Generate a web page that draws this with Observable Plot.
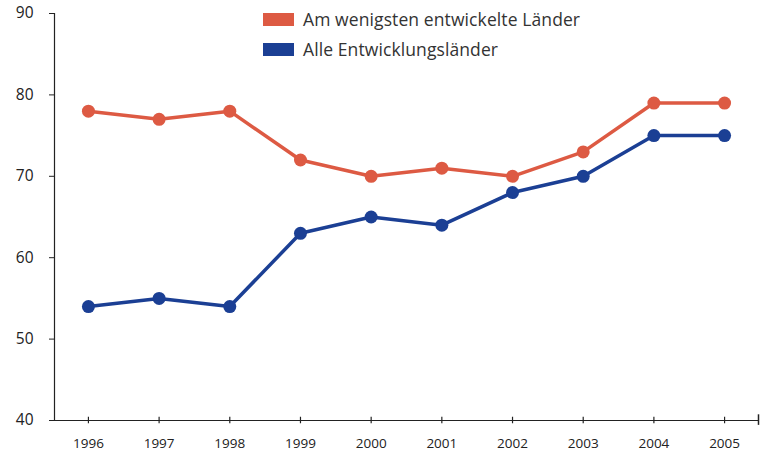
<!DOCTYPE html>
<html>
<head>
<meta charset="utf-8">
<script src="https://cdn.jsdelivr.net/npm/d3@7"></script>
<script src="https://cdn.jsdelivr.net/npm/@observablehq/plot@0.6"></script>
<style>
  html, body { margin: 0; padding: 0; background: #fff; }
  #wrap { position: relative; width: 764px; height: 454px; font-family: "Open Sans", "Noto Sans", sans-serif; }
  .leg { position: absolute; left: 263px; display: flex; align-items: center; font-size: 17.5px; color: #333; letter-spacing: 0.1px; }
  .sw { width: 31px; height: 13px; margin-right: 9px; }
</style>
</head>
<body>
<div id="wrap"></div>
<script>
const years = [1996, 1997, 1998, 1999, 2000, 2001, 2002, 2003, 2004, 2005];
const seriesNames = ["Am wenigsten entwickelte Länder", "Alle Entwicklungsländer"];
const ldcValues = [78, 77, 78, 72, 70, 71, 70, 73, 79, 79];
const allValues = [54, 55, 54, 63, 65, 64, 68, 70, 75, 75];
const yTicks = [40, 50, 60, 70, 80, 90];
const colors = ["#dd5a43", "#1b3f94"];

const data = [
  ...years.map((y, i) => ({year: y, value: ldcValues[i], series: seriesNames[0]})),
  ...years.map((y, i) => ({year: y, value: allValues[i], series: seriesNames[1]}))
];

const x0 = 1995.52, x1 = 2005.48;

const chart = Plot.plot({
  width: 764,
  height: 454,
  marginLeft: 54,
  marginRight: 6,
  marginTop: 13,
  marginBottom: 34,
  style: {fontFamily: "'Open Sans', 'Noto Sans', sans-serif", color: "#222"},
  x: {domain: [x0, x1], axis: null},
  y: {domain: [40, 90], axis: null},
  color: {domain: seriesNames, range: colors},
  marks: [
    Plot.ruleX([x0], {y1: 40, y2: 90, stroke: "#222", strokeWidth: 1.2}),
    Plot.ruleY([40], {x1: x0, x2: x1, stroke: "#222", strokeWidth: 1.2}),
    Plot.axisY({ticks: yTicks, label: null, tickSize: 5, tickPadding: 16, fontSize: 15.5, tickFormat: d => d, stroke: "#222"}),
    Plot.ruleX(years, {y1: 40, y2: 40.4, stroke: "#222", strokeWidth: 1.2}),
    Plot.ruleX(years, {y1: 40, y2: 39.6, stroke: "#222", strokeWidth: 1.2}),
    Plot.ruleX([x1], {y1: 39.4, y2: 40.7, stroke: "#222", strokeWidth: 1.5}),
    Plot.text(years, {x: d => d, y: 40, dy: 23, text: d => String(d), fontSize: 13.5, fill: "#222"}),
    Plot.line(data, {x: "year", y: "value", z: "series", stroke: "series", strokeWidth: 3.5}),
    Plot.dot(data, {x: "year", y: "value", fill: "series", r: 6.5})
  ]
});

const wrap = document.getElementById("wrap");
wrap.appendChild(chart);
seriesNames.forEach((name, i) => {
  const d = document.createElement("div");
  d.className = "leg";
  d.style.top = (7 + i * 30) + "px";
  d.innerHTML = `<div class="sw" style="background:${colors[i]}"></div><span>${name}</span>`;
  wrap.appendChild(d);
});
</script>
</body>
</html>
